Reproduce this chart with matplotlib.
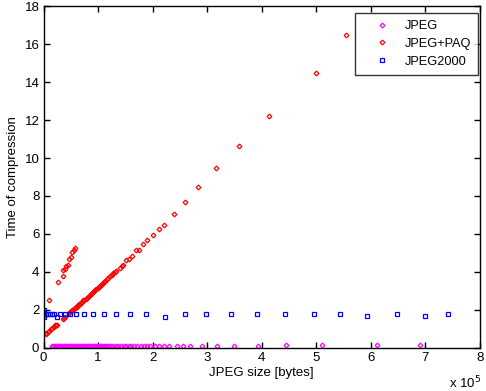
import matplotlib
matplotlib.use('Agg')
import matplotlib.pyplot as plt

plt.rcParams['font.family'] = ['Liberation Sans', 'DejaVu Sans']

# JPEG size in units of 1e5 bytes, time of compression
jpeg_x = [0.15, 0.18, 0.21, 0.23, 0.26, 0.29, 0.31, 0.34, 0.37, 0.40, 0.42, 0.45,
          0.48, 0.50, 0.53, 0.56, 0.59, 0.61, 0.64, 0.67, 0.70, 0.72, 0.75, 0.78,
          0.81, 0.83, 0.86, 0.89, 0.92, 0.94, 0.97, 1.00, 1.03, 1.05, 1.08, 1.11,
          1.14, 1.17, 1.20, 1.23,
          1.27, 1.32, 1.37, 1.42, 1.47, 1.52, 1.57, 1.61, 1.66, 1.72, 1.78, 1.84,
          1.90, 1.96, 2.05, 2.12, 2.21, 2.30, 2.45, 2.56, 2.69, 2.91, 3.18, 3.49,
          3.93, 4.45, 5.11, 6.11, 6.90]
jpeg_y = [0.08, 0.08, 0.09, 0.08, 0.08, 0.09, 0.08, 0.08, 0.08, 0.09, 0.08, 0.08,
          0.08, 0.09, 0.08, 0.08, 0.08, 0.09, 0.08, 0.08, 0.08, 0.09, 0.08, 0.08,
          0.08, 0.09, 0.08, 0.08, 0.08, 0.09, 0.08, 0.08, 0.09, 0.08, 0.08, 0.09,
          0.08, 0.08, 0.09, 0.08,
          0.09, 0.09, 0.09, 0.09, 0.09, 0.09, 0.09, 0.09, 0.09, 0.09, 0.09, 0.09,
          0.09, 0.09, 0.10, 0.10, 0.10, 0.10, 0.10, 0.10, 0.10, 0.10, 0.10, 0.10,
          0.11, 0.13, 0.13, 0.13, 0.13]

paq_x = [0.04, 0.05, 0.08, 0.106, 0.14, 0.16, 0.19, 0.21, 0.23, 0.25, 0.35, 0.375, 0.40,
         0.106, 0.27, 0.35, 0.36, 0.39, 0.42, 0.44, 0.47, 0.50, 0.53, 0.55, 0.57,
         0.47, 0.49, 0.51, 0.53, 0.55, 0.57, 0.59, 0.61, 0.63, 0.65, 0.67, 0.69,
         0.71, 0.73, 0.75, 0.77, 0.79, 0.81, 0.83, 0.85, 0.87, 0.89, 0.91, 0.93,
         0.95, 0.97, 0.99, 1.01, 1.03, 1.05, 1.07, 1.09, 1.11, 1.13, 1.16, 1.19,
         1.22, 1.25, 1.28, 1.31, 1.33,
         1.40, 1.43, 1.46, 1.52, 1.57, 1.63, 1.70, 1.75, 1.83, 1.90, 2.01, 2.12,
         2.21, 2.40, 2.60, 2.84, 3.16, 3.58, 4.13, 4.99, 5.54]
paq_y = [0.80, 0.74, 0.82, 0.90, 0.97, 1.04, 1.11, 1.20, 1.20, 1.20, 1.53, 1.58, 1.64,
         2.50, 3.45, 3.77, 4.11, 4.14, 4.31, 4.36, 4.68, 4.78, 5.03, 5.15, 5.26,
         1.81, 1.86, 1.91, 1.97, 2.02, 2.07, 2.12, 2.17, 2.23, 2.28, 2.33, 2.38,
         2.43, 2.49, 2.54, 2.59, 2.64, 2.69, 2.75, 2.80, 2.85, 2.90, 2.95, 3.01,
         3.06, 3.11, 3.16, 3.21, 3.27, 3.32, 3.37, 3.42, 3.47, 3.53, 3.60, 3.68,
         3.76, 3.84, 3.92, 3.99, 4.05,
         4.19, 4.32, 4.35, 4.63, 4.66, 4.82, 5.14, 5.14, 5.45, 5.66, 5.93, 6.24,
         6.45, 7.05, 7.67, 8.46, 9.46, 10.63, 12.22, 14.49, 16.49]

j2k_x = [0.005, 0.005, 0.01, 0.005, 0.01, 0.01, 0.05, 0.08, 0.11, 0.15, 0.19, 0.25,
         0.31, 0.40, 0.49, 0.60, 0.75, 0.91, 1.10, 1.33, 1.59, 1.88, 2.23, 2.60,
         2.98, 3.44, 3.92, 4.43, 4.96, 5.44, 5.93, 6.48, 6.99, 7.41]
j2k_y = [2.00, 1.90, 1.85, 1.70, 1.62, 1.76, 1.76, 1.76, 1.76, 1.76, 1.76, 1.64,
         1.76, 1.76, 1.76, 1.76, 1.76, 1.76, 1.76, 1.76, 1.76, 1.76, 1.64, 1.76,
         1.76, 1.76, 1.76, 1.76, 1.76, 1.76, 1.66, 1.76, 1.66, 1.76]

xticks = [0, 1, 2, 3, 4, 5, 6, 7, 8]
yticks = [0, 2, 4, 6, 8, 10, 12, 14, 16, 18]

fig = plt.figure(figsize=(4.86, 3.91), dpi=100)
ax = fig.add_axes([43.5 / 486, (391 - 347.7) / 391, (480 - 43.5) / 486, (347.7 - 6.3) / 391])

mk = dict(linestyle='none', markerfacecolor='none', markeredgewidth=0.9)
ax.plot(jpeg_x, jpeg_y, marker='D', markersize=2.4, color='#ff00ff', label='JPEG', **mk)
ax.plot(paq_x, paq_y, marker='D', markersize=2.4, color='#ff0000', label='JPEG+PAQ', **mk)
ax.plot(j2k_x, j2k_y, marker='s', markersize=3.0, color='#0000ff', label='JPEG2000', **mk)

ax.set_xlim(0, 8)
ax.set_ylim(0, 18)
ax.set_xticks(xticks)
ax.set_yticks(yticks)
ax.tick_params(direction='in', length=4, width=1, top=True, right=True,
               labelsize=9.5, pad=3)
for s in ax.spines.values():
    s.set_linewidth(1)

ax.set_xlabel('JPEG size [bytes]', fontsize=9.5, labelpad=2)
ax.set_ylabel('Time of compression', fontsize=9.5, labelpad=4)
fig.text(449 / 486, 1 - 383 / 391, 'x 10$^5$', fontsize=9.5, ha='left', va='center')

leg = ax.legend(loc='upper right', bbox_to_anchor=(478 / 486, 1 - 13 / 391),
                bbox_transform=fig.transFigure, borderaxespad=0,
                fontsize=9.2, frameon=True, fancybox=False,
                edgecolor='black', borderpad=0.55, handlelength=3.0, handletextpad=0.3,
                labelspacing=0.45, markerscale=1.0)
leg.get_frame().set_linewidth(1)

fig.savefig('out.png', dpi=100)
